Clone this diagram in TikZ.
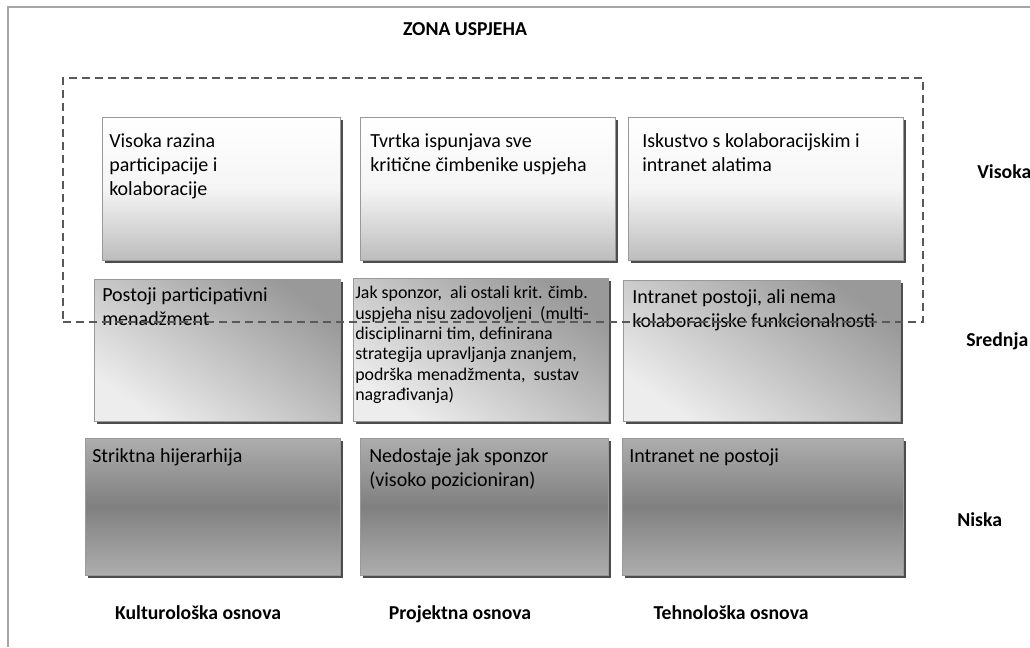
\documentclass[tikz,border=0pt]{standalone}
\usepackage{fontspec}
\setmainfont{Carlito}
\usetikzlibrary{shadows,fit}

\tikzset{
    cell/.style={draw=black!40, line width=0.6pt, inner sep=0pt,
        drop shadow={shadow xshift=2pt, shadow yshift=-2pt, fill=black!70, opacity=1}},
    cellhi/.style={cell, top color=white, bottom color=black!26, middle color=black!4},
    cellmid/.style={cell, top color=black!40, bottom color=black!7, shading angle=-35},
    celllow/.style={cell, top color=black!32, bottom color=black!32, middle color=black!50},
    txt/.style={anchor=north west, inner sep=0pt, align=left,
        font=\fontsize{15}{18}\selectfont},
    txtsmall/.style={txt, font=\fontsize{13.4}{15.25}\selectfont},
    lbl/.style={inner sep=0pt, font=\bfseries\fontsize{14.8}{17}\selectfont},
    zonebox/.style={draw=black!65, line width=0.9pt, dash pattern=on 6pt off 3.75pt, inner sep=0pt},
    frame/.style={draw=black!35, line width=0.8pt}
}

\begin{document}
\begin{tikzpicture}[x=0.75pt, y=-0.75pt]
    \useasboundingbox (0,0) rectangle (1030,647);
    % page frame
    \draw[frame] (1030,7) -- (8,7) -- (8,647);
    \node[lbl, anchor=base] (zona) at (465,35) {ZONA USPJEHA};

    % Visoka
    \node[cellhi, fit={(102,117) (340,260)}] (hi1) {};
    \node[cellhi, fit={(360,117) (615,260)}] (hi2) {};
    \node[cellhi, fit={(628,117) (903,260)}] (hi3) {};
    \node[txt] (hi1t) at (109,133) {Visoka razina\\participacije i\\kolaboracije};
    \node[txt] (hi2t) at (370,133) {Tvrtka ispunjava sve\\kritične čimbenike uspjeha};
    \node[txt] (hi3t) at (642,133) {Iskustvo s kolaboracijskim i\\intranet alatima};

    % Srednja
    \node[cellmid, fit={(94,279) (340,421)}] (mid1) {};
    \node[cellmid, fit={(353,278) (608,421)}] (mid2) {};
    \node[cellmid, fit={(623,280) (900,421)}] (mid3) {};
    \node[txt] (mid1t) at (102,287) {Postoji participativni\\menadžment};
    \node[txtsmall] (mid2t) at (355,286) {Jak sponzor,\ \ ali ostali krit. čimb.\\
        uspjeha nisu zadovoljeni\ \ (multi-\\disciplinarni tim, definirana\\
        strategija upravljanja znanjem,\\podrška menadžmenta,\ \ sustav\\nagrađivanja)};
    \node[txt] (mid3t) at (632,289) {Intranet postoji, ali nema\\kolaboracijske funkcionalnosti};

    % Niska
    \node[celllow, fit={(85,438) (340,575)}] (low1) {};
    \node[celllow, fit={(360,438) (608,575)}] (low2) {};
    \node[celllow, fit={(622,438) (903,575)}] (low3) {};
    \node[txt] (low1t) at (92,448) {Striktna hijerarhija};
    \node[txt] (low2t) at (369,448) {Nedostaje jak sponzor\\(visoko pozicioniran)};
    \node[txt] (low3t) at (629,448) {Intranet ne postoji};

    % zona uspjeha
    \node[zonebox, fit={(63,78) (923,322)}] (zone) {};

    \foreach \x/\y/\razina in {977/178/Visoka, 966/346/Srednja, 957/526/Niska} {
        \node[lbl, anchor=base west] (lvl\y) at (\x,\y) {\razina};
    }
    \foreach \x/\osnova in {198/Kulturološka osnova, 460/Projektna osnova, 731/Tehnološka osnova} {
        \node[lbl, anchor=base] (base\x) at (\x,619) {\osnova};
    }
\end{tikzpicture}
\end{document}
